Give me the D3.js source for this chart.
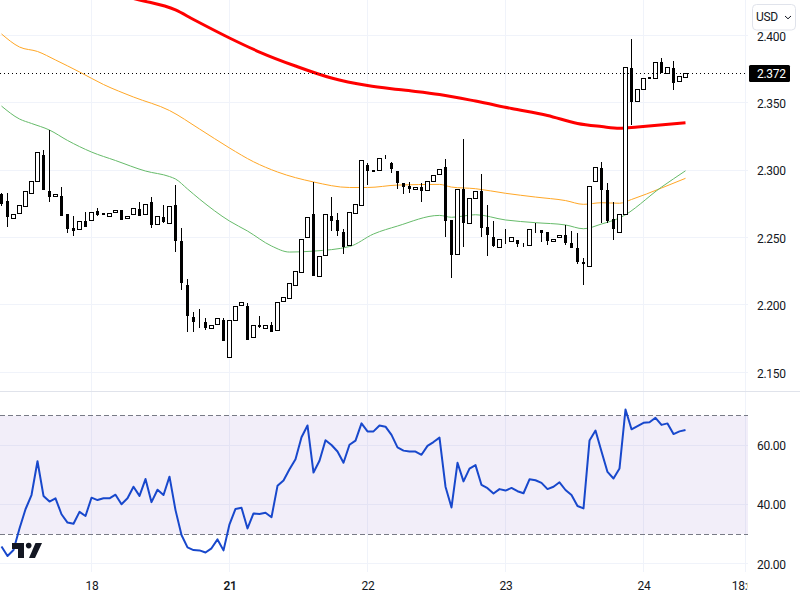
<!DOCTYPE html>
<html>
<head>
<meta charset="utf-8">
<script src="https://cdn.jsdelivr.net/npm/d3@7"></script>
<style>
  html, body { margin: 0; padding: 0; background: #fff; }
  svg { display: block; }
  text { font-family: Roboto, sans-serif; font-size: 12px; letter-spacing: -0.3px; fill: #131722; }
</style>
</head>
<body>
<svg id="chart" width="800" height="600"></svg>
<script>
// candles, one per bar
const opens = [
  2.2816, 2.2764, 2.2640, 2.2680, 2.2732, 2.2828, 2.2915, 2.3110, 2.2838, 2.2803,
  2.2801, 2.2668, 2.2564, 2.2561, 2.2621, 2.2628, 2.2695, 2.2680, 2.2658, 2.2687,
  2.2697, 2.2640, 2.2673, 2.2710, 2.2673, 2.2756, 2.2599, 2.2650, 2.2603, 2.2734,
  2.2468, 2.2142, 2.1904, 2.1900, 2.1867, 2.1828, 2.1857, 2.1882, 2.1611, 2.1887,
  2.1998, 2.1991, 2.1761, 2.1848, 2.1828, 2.1845, 2.1813, 2.2028, 2.2050, 2.2146,
  2.2243, 2.2502, 2.2668, 2.2213, 2.2369, 2.2653, 2.2623, 2.2534, 2.2440, 2.2680,
  2.2737, 2.3031, 2.2999, 2.2996, 2.3095, 2.3048, 2.2991, 2.2897, 2.2875, 2.2855,
  2.2868, 2.2850, 2.2915, 2.2967, 2.3016, 2.2623, 2.2374, 2.2853, 2.2606, 2.2789,
  2.2843, 2.2571, 2.2502, 2.2428, 2.2472, 2.2470, 2.2480, 2.2445, 2.2443, 2.2560,
  2.2554, 2.2534, 2.2472, 2.2499, 2.2512, 2.2453, 2.2416, 2.2312, 2.2287, 2.2917,
  2.3013, 2.2850, 2.2635, 2.2538, 2.2672, 2.3757, 2.3510, 2.3599, 2.3690, 2.3678,
  2.3795, 2.3718, 2.3757, 2.3659, 2.3688
];
const closes = [
  2.2749, 2.2650, 2.2670, 2.2739, 2.2843, 2.2917, 2.3130, 2.2855, 2.2801, 2.2821,
  2.2663, 2.2564, 2.2549, 2.2621, 2.2581, 2.2685, 2.2675, 2.2670, 2.2678, 2.2702,
  2.2633, 2.2658, 2.2717, 2.2663, 2.2744, 2.2594, 2.2658, 2.2623, 2.2732, 2.2477,
  2.2166, 2.1922, 2.1877, 2.1900, 2.1830, 2.1850, 2.1902, 2.1736, 2.1887, 2.1991,
  2.2021, 2.1744, 2.1848, 2.1843, 2.1850, 2.1803, 2.2018, 2.2058, 2.2161, 2.2250,
  2.2487, 2.2650, 2.2218, 2.2361, 2.2673, 2.2623, 2.2552, 2.2431, 2.2687, 2.2747,
  2.3073, 2.2996, 2.2989, 2.3087, 2.3095, 2.3011, 2.2907, 2.2875, 2.2860, 2.2873,
  2.2845, 2.2917, 2.2962, 2.3006, 2.2626, 2.2371, 2.2858, 2.2611, 2.2791, 2.2843,
  2.2574, 2.2519, 2.2445, 2.2487, 2.2472, 2.2499, 2.2460, 2.2445, 2.2561, 2.2560,
  2.2537, 2.2477, 2.2487, 2.2517, 2.2460, 2.2425, 2.2319, 2.2307, 2.2877, 2.3018,
  2.2855, 2.2630, 2.2565, 2.2672, 2.3763, 2.3515, 2.3599, 2.3681, 2.3680, 2.3800,
  2.3720, 2.3763, 2.3656, 2.3696, 2.3720
];
const highs = [
  2.2833, 2.2833, 2.2670, 2.2739, 2.2843, 2.2917, 2.3130, 2.3149, 2.3297, 2.2821,
  2.2875, 2.2668, 2.2660, 2.2621, 2.2690, 2.2685, 2.2719, 2.2680, 2.2678, 2.2702,
  2.2697, 2.2658, 2.2717, 2.2764, 2.2744, 2.2798, 2.2658, 2.2742, 2.2732, 2.2887,
  2.2571, 2.2191, 2.1949, 2.1969, 2.1904, 2.1850, 2.1902, 2.1904, 2.1887, 2.1991,
  2.2021, 2.2013, 2.1848, 2.1919, 2.1850, 2.1875, 2.2018, 2.2058, 2.2161, 2.2250,
  2.2487, 2.2650, 2.2910, 2.2361, 2.2673, 2.2801, 2.2685, 2.2564, 2.2687, 2.2747,
  2.3073, 2.3055, 2.2999, 2.3087, 2.3112, 2.3063, 2.2991, 2.2897, 2.2912, 2.2873,
  2.2907, 2.2917, 2.2962, 2.3006, 2.3082, 2.2623, 2.2858, 2.3228, 2.2791, 2.2843,
  2.2971, 2.2739, 2.2621, 2.2487, 2.2564, 2.2499, 2.2480, 2.2462, 2.2561, 2.2608,
  2.2554, 2.2534, 2.2487, 2.2517, 2.2594, 2.2549, 2.2534, 2.2346, 2.2877, 2.3018,
  2.3058, 2.2904, 2.2763, 2.2672, 2.3763, 2.3973, 2.3599, 2.3681, 2.3690, 2.3800,
  2.3832, 2.3763, 2.3809, 2.3696, 2.3720
];
const lows = [
  2.2734, 2.2581, 2.2640, 2.2680, 2.2732, 2.2828, 2.2915, 2.2855, 2.2764, 2.2803,
  2.2663, 2.2537, 2.2512, 2.2561, 2.2581, 2.2628, 2.2660, 2.2670, 2.2658, 2.2687,
  2.2633, 2.2640, 2.2673, 2.2663, 2.2673, 2.2571, 2.2599, 2.2608, 2.2603, 2.2394,
  2.2112, 2.1801, 2.1796, 2.1828, 2.1815, 2.1828, 2.1857, 2.1736, 2.1611, 2.1887,
  2.1998, 2.1744, 2.1761, 2.1830, 2.1828, 2.1803, 2.1813, 2.2028, 2.2050, 2.2146,
  2.2243, 2.2502, 2.2218, 2.2213, 2.2369, 2.2549, 2.2512, 2.2379, 2.2440, 2.2680,
  2.2737, 2.2887, 2.2989, 2.2996, 2.3080, 2.2981, 2.2858, 2.2823, 2.2828, 2.2855,
  2.2764, 2.2850, 2.2915, 2.2967, 2.2507, 2.2201, 2.2374, 2.2431, 2.2606, 2.2789,
  2.2507, 2.2364, 2.2431, 2.2428, 2.2453, 2.2470, 2.2431, 2.2431, 2.2443, 2.2537,
  2.2463, 2.2445, 2.2472, 2.2499, 2.2448, 2.2425, 2.2304, 2.2144, 2.2287, 2.2917,
  2.2607, 2.2610, 2.2481, 2.2538, 2.2672, 2.3335, 2.3510, 2.3599, 2.3680, 2.3678,
  2.3720, 2.3718, 2.3594, 2.3659, 2.3688
];

// moving averages, read at the bars where they bend
const redBars = [21, 23, 29, 32, 38, 43, 49, 55, 61, 67, 73, 79, 85, 91, 96, 100, 103, 106, 114];
const redValues = [2.4284, 2.4262, 2.4188, 2.4117, 2.3980, 2.3876, 2.3772, 2.3683, 2.3627, 2.3594, 2.3561, 2.3512, 2.3457, 2.3405, 2.3346, 2.3323, 2.3310, 2.3320, 2.3351];
const orangeBars = [0, 3, 6, 9, 13, 17, 22, 28, 33, 38, 42, 46, 52, 58, 61, 66, 73, 75, 79, 84, 89, 94, 97, 100, 103, 105, 110, 114];
const orangeValues = [2.4010, 2.3913, 2.3880, 2.3817, 2.3728, 2.3635, 2.3542, 2.3442, 2.3305, 2.3164, 2.3062, 2.2986, 2.2912, 2.2871, 2.2871, 2.2889, 2.2894, 2.2874, 2.2862, 2.2828, 2.2800, 2.2774, 2.2746, 2.2758, 2.2754, 2.2782, 2.2867, 2.2939];
const greenBars = [0, 3, 5, 8, 11, 15, 19, 24, 28, 29, 31, 33, 38, 41, 45, 48, 52, 58, 62, 66, 73, 75, 79, 84, 89, 94, 97, 100, 103, 110, 114];
const greenValues = [2.3475, 2.3379, 2.3346, 2.3297, 2.3220, 2.3134, 2.3071, 2.2993, 2.2952, 2.2934, 2.2860, 2.2785, 2.2622, 2.2548, 2.2437, 2.2392, 2.2399, 2.2433, 2.2526, 2.2585, 2.2664, 2.2650, 2.2669, 2.2630, 2.2610, 2.2593, 2.2565, 2.2600, 2.2645, 2.2874, 2.2995];

// RSI, one per bar
const rsi = [
  25.8, 22.6, 24.6, 31.9, 38.4, 43.2, 54.6, 42.9, 41.0, 42.1,
  36.7, 33.9, 33.5, 37.5, 36.1, 42.3, 41.5, 42.1, 42.1, 43.3,
  40.1, 42.1, 46.0, 42.9, 48.6, 40.8, 45.0, 43.2, 49.4, 38.1,
  29.7, 25.5, 24.6, 24.5, 23.8, 25.2, 28.2, 24.5, 33.3, 38.5,
  38.9, 31.9, 37.0, 36.8, 37.2, 35.7, 46.3, 48.1, 51.9, 55.3,
  62.7, 66.7, 50.8, 54.8, 61.7, 60.1, 57.9, 54.1, 60.2, 61.6,
  67.4, 64.7, 64.7, 66.7, 66.3, 63.5, 59.3, 58.2, 57.9, 57.9,
  56.8, 59.8, 61.1, 62.6, 46.0, 39.0, 54.1, 47.8, 52.1, 53.3,
  46.6, 45.5, 43.7, 45.2, 44.7, 45.6, 44.5, 43.8, 48.5, 48.2,
  47.3, 45.2, 46.0, 47.5, 44.9, 43.2, 39.5, 38.7, 61.6, 65.0,
  57.9, 51.0, 48.8, 52.2, 72.1, 65.4, 66.5, 67.6, 67.8, 69.3,
  66.9, 67.4, 63.8, 64.7, 65.2
];

const priceTicks = [2.4, 2.35, 2.3, 2.25, 2.2, 2.15];
const rsiTicks = [60, 40, 20];
const rsiBand = [70, 30];
const timeBars = [15, 38, 61, 84, 107, 124];
const timeLabels = ['18', '21', '22', '23', '24', '18:00'];
const lastPrice = 2.372;

const svg = d3.select('#chart');
const plotRight = 748;
const gridColor = '#f0f3fa';

const x = d3.scaleLinear().domain([0, 124]).range([1.5, 745.5]);
const y = d3.scaleLinear().domain([2.4, 2.15]).range([35.3, 372.3]);
const yRsi = d3.scaleLinear().domain([60, 20]).range([445.3, 563.7]);
const snap = v => Math.floor(v) + 0.5;

svg.append('defs').append('clipPath').attr('id', 'plot')
  .append('rect').attr('width', plotRight).attr('height', 391);
svg.append('defs').append('clipPath').attr('id', 'timeClip')
  .append('rect').attr('width', plotRight).attr('height', 600);

// grid
const grid = svg.append('g').attr('stroke', gridColor);
grid.selectAll('.v').data(timeBars).enter().append('line')
  .attr('x1', d => x(d)).attr('x2', d => x(d))
  .attr('y1', 0).attr('y2', 572);
grid.selectAll('.h').data(priceTicks).enter().append('line')
  .attr('x1', 0).attr('x2', plotRight)
  .attr('y1', d => snap(y(d))).attr('y2', d => snap(y(d)));
grid.selectAll('.r').data(rsiTicks).enter().append('line')
  .attr('x1', 0).attr('x2', plotRight)
  .attr('y1', d => snap(yRsi(d))).attr('y2', d => snap(yRsi(d)));

// pane separator
svg.append('line').attr('x1', 0).attr('x2', 800).attr('y1', 391.5).attr('y2', 391.5)
  .attr('stroke', '#e0e3eb');

// moving averages, under the candles
const plot = svg.append('g').attr('clip-path', 'url(#plot)');
const maLine = d3.line().x(d => x(d[0])).y(d => y(d[1])).curve(d3.curveMonotoneX);
plot.append('path').datum(d3.zip(orangeBars, orangeValues))
  .attr('d', maLine).attr('fill', 'none').attr('stroke', '#ffa726').attr('stroke-width', 1);
plot.append('path').datum(d3.zip(greenBars, greenValues))
  .attr('d', maLine).attr('fill', 'none').attr('stroke', '#66bb6a').attr('stroke-width', 1);
plot.append('path').datum(d3.zip(redBars, redValues))
  .attr('d', maLine).attr('fill', 'none').attr('stroke', '#ff0000').attr('stroke-width', 3);

// candles, bound to the bar number so the filter below keeps the right index
const candles = plot.selectAll('g.candle').data(d3.range(opens.length)).enter().append('g').attr('class', 'candle');
candles.append('line')
  .attr('x1', i => x(i)).attr('x2', i => x(i))
  .attr('y1', i => Math.round(y(highs[i])))
  .attr('y2', i => Math.round(y(lows[i])))
  .attr('stroke', '#000');
candles.filter(i => opens[i] !== closes[i]).append('rect')
  .attr('x', i => closes[i] > opens[i] ? x(i) - 2 : x(i) - 1)
  .attr('width', i => closes[i] > opens[i] ? 4 : 2)
  .attr('y', i => snap(y(Math.max(opens[i], closes[i]))))
  .attr('height', i => Math.max(1, Math.round(Math.abs(y(opens[i]) - y(closes[i])))))
  .attr('fill', i => closes[i] > opens[i] ? '#fff' : '#000')
  .attr('stroke', '#000');

// last price line
svg.append('line').attr('x1', 0).attr('x2', plotRight)
  .attr('y1', snap(y(lastPrice))).attr('y2', snap(y(lastPrice)))
  .attr('stroke', '#000').attr('stroke-dasharray', '1 3');

// RSI pane
svg.append('rect').attr('x', 0).attr('width', plotRight)
  .attr('y', yRsi(rsiBand[0])).attr('height', yRsi(rsiBand[1]) - yRsi(rsiBand[0]))
  .attr('fill', '#7e57c2').attr('fill-opacity', 0.1);
svg.selectAll('.band').data(rsiBand).enter().append('line')
  .attr('x1', 0).attr('x2', plotRight)
  .attr('y1', d => snap(yRsi(d))).attr('y2', d => snap(yRsi(d)))
  .attr('stroke', '#787b86').attr('stroke-dasharray', '5 3');
svg.append('path').datum(rsi)
  .attr('d', d3.line().x((d, i) => x(i)).y(d => yRsi(d)))
  .attr('fill', 'none').attr('stroke', '#1848cc').attr('stroke-width', 2)
  .attr('stroke-linejoin', 'round');

// tradingview mark
const logo = svg.append('g').attr('fill', '#131722');
logo.append('path').attr('d', 'M12 543H24V558H18V549H12Z');
logo.append('circle').attr('cx', 28.7).attr('cy', 545.6).attr('r', 2.8);
logo.append('path').attr('d', 'M35.5 543H42L35 558H29Z');

// axes
const priceAxis = d3.axisRight(y).tickValues(priceTicks).tickSize(0).tickPadding(0).tickFormat(d3.format('.3f'));
const rsiAxis = d3.axisRight(yRsi).tickValues(rsiTicks).tickSize(0).tickPadding(0).tickFormat(d3.format('.2f'));
const timeAxis = d3.axisBottom(x).tickValues(timeBars).tickSize(0).tickPadding(0)
  .tickFormat((d, i) => timeLabels[i]);

svg.append('g').attr('transform', 'translate(757,1)').call(priceAxis).call(g => g.select('.domain').remove());
svg.append('g').attr('transform', 'translate(757,0.5)').call(rsiAxis).call(g => g.select('.domain').remove());
svg.append('g').attr('clip-path', 'url(#timeClip)')
  .append('g').attr('transform', 'translate(0,581.5)').call(timeAxis)
  .call(g => g.select('.domain').remove())
  .call(g => g.selectAll('text').style('font-weight', (d, i) => timeLabels[i] === '21' ? 600 : 400));

// last price tag
svg.append('rect').attr('x', 749).attr('y', 65).attr('width', 41).attr('height', 17)
  .attr('rx', 1.5).attr('fill', '#000');
svg.append('text').attr('x', 757).attr('y', y(lastPrice) + 1).attr('dy', '0.35em')
  .text(d3.format('.3f')(lastPrice)).style('fill', '#fff');

// currency button
svg.append('rect').attr('x', 752.5).attr('y', 4.5).attr('width', 43).attr('height', 25.5)
  .attr('rx', 4).attr('fill', '#fff').attr('stroke', '#e0e3eb');
svg.append('text').attr('x', 756).attr('y', 21).text('USD');
svg.append('path').attr('d', 'M785 16L788 18.8L791 16')
  .attr('fill', 'none').attr('stroke', '#131722').attr('stroke-width', 1);
</script>
</body>
</html>
